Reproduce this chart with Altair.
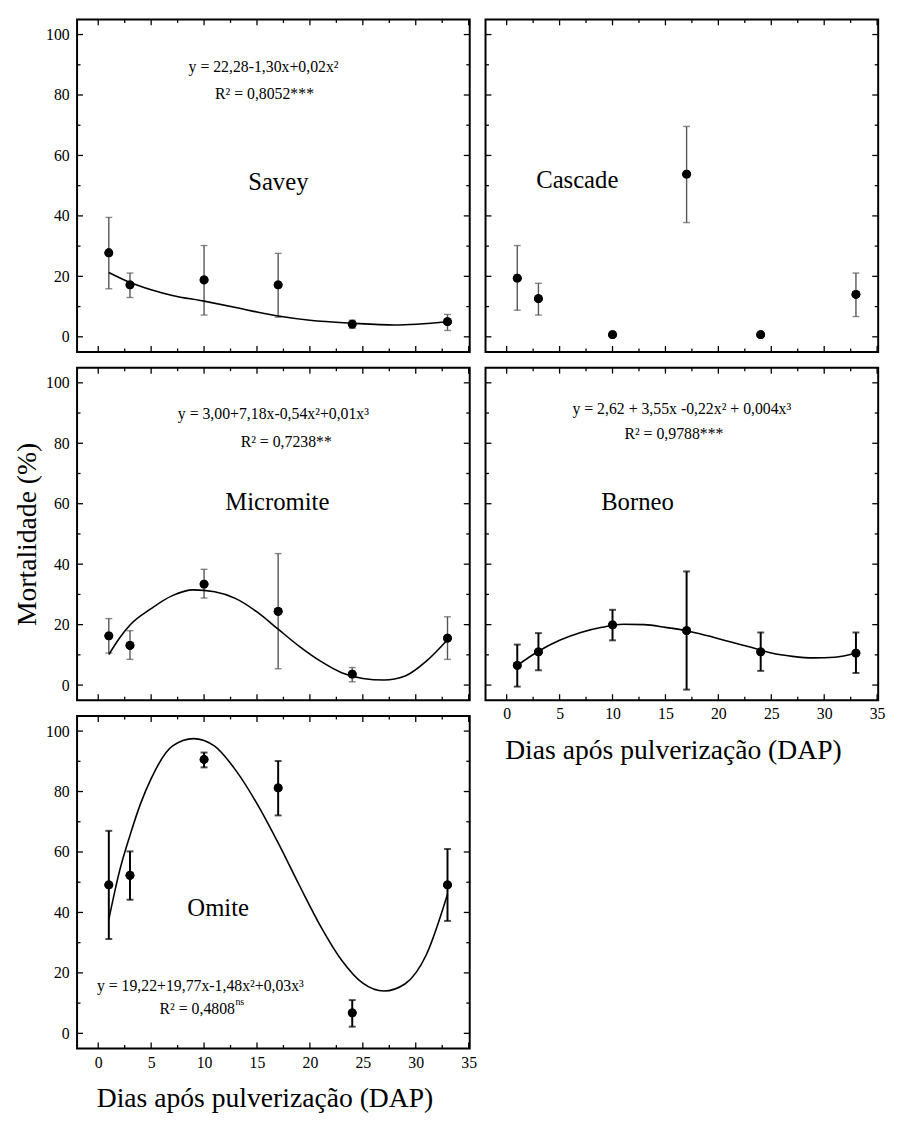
import altair as alt
import pandas as pd

FONT = "Liberation Serif"
W, H = 398, 337

days = [1, 3, 10, 17, 24, 33]
x_major = [0, 5, 10, 15, 20, 25, 30, 35]
x_minor = [2.5, 7.5, 12.5, 17.5, 22.5, 27.5, 32.5]
y_major = [0, 20, 40, 60, 80, 100]
y_minor = [10, 30, 50, 70, 90]

# Savey
savey_mean = [27.8, 17.2, 18.8, 17.2, 4.2, 5.0]
savey_lo = [15.9, 13.0, 7.2, 6.5, 2.8, 2.1]
savey_hi = [39.5, 21.1, 30.2, 27.6, 5.5, 7.4]
savey_fit_x = [1, 3, 5, 7, 10, 13, 15, 17, 20, 24, 28, 33]
savey_fit_y = [21.3, 18.0, 15.6, 13.7, 11.8, 9.7, 8.2, 6.9, 5.5, 4.5, 3.9, 5.0]

# Cascade
cascade_mean = [19.4, 12.6, 0.7, 53.8, 0.7, 14.0]
cascade_lo = [8.8, 7.2, None, 37.8, None, 6.7]
cascade_hi = [30.2, 17.7, None, 69.6, None, 21.1]

# Micromite
micro_mean = [16.3, 13.1, 33.4, 24.4, 3.6, 15.5]
micro_lo = [10.6, 8.5, 28.8, 5.4, 1.1, 8.5]
micro_hi = [22.0, 18.0, 38.3, 43.5, 5.8, 22.6]
micro_fit_x = [1, 2, 3, 5, 7, 9, 11, 13, 15, 17, 19, 21, 23, 25, 27, 29, 31, 33]
micro_fit_y = [10.1, 15.5, 19.9, 25.3, 29.6, 31.5, 30.9, 28.6, 24.2, 18.5, 12.8,
               7.9, 4.1, 2.2, 1.7, 3.0, 7.9, 15.0]

# Borneo
borneo_mean = [6.5, 11.0, 19.9, 18.0, 11.0, 10.6]
borneo_lo = [-0.5, 4.9, 14.8, -1.5, 4.7, 4.0]
borneo_hi = [13.4, 17.2, 24.9, 37.6, 17.4, 17.4]
borneo_fit_x = [1, 3, 5, 7, 9, 11, 13, 15, 17, 19, 21, 23, 25, 27, 29, 31, 33]
borneo_fit_y = [6.5, 11.2, 14.8, 17.4, 19.1, 20.1, 20.0, 19.1, 18.0, 16.3, 14.4,
                12.6, 10.6, 9.5, 9.0, 9.2, 10.6]

# Omite
omite_mean = [49.1, 52.3, 90.6, 81.2, 6.8, 49.1]
omite_lo = [31.2, 44.2, 88.0, 72.1, 2.2, 37.2]
omite_hi = [67.0, 60.2, 92.9, 90.1, 11.0, 61.0]
omite_fit_x = [1, 2, 3, 4, 5, 7, 9, 11, 13, 15, 17, 19, 21, 23, 25, 27, 29, 31, 33]
omite_fit_y = [37.7, 53.5, 65.5, 76.0, 84.3, 95.0, 97.5, 95.0, 87.0, 76.0, 63.0,
               49.0, 35.5, 24.2, 16.6, 14.0, 16.4, 26.0, 46.0]

x_title = "Dias após pulverização (DAP)"
y_title = "Mortalidade (%)"

xs = alt.Scale(domain=[-2, 35.1], nice=False, zero=False)
ys = alt.Scale(domain=[-5, 105], nice=False, zero=False)


def panel(mean, lo, hi, fit_x=None, fit_y=None, texts=(), show_x=False,
          show_y=False, ytitle=None, err_color="#555555", err_w=1.4):
    if show_x:
        xaxis = alt.Axis(values=x_major, format="d", ticks=False, domain=False,
                         grid=False, labelFont=FONT, labelFontSize=16,
                         labelColor="black", labelPadding=6, title=x_title,
                         titleFont=FONT, titleFontSize=28, titleFontWeight="normal",
                         titleColor="black", titlePadding=15, titleX=190)
    else:
        xaxis = None
    if show_y:
        yaxis = alt.Axis(values=y_major, format="d", ticks=False, domain=False,
                         grid=False, labelFont=FONT, labelFontSize=16,
                         labelColor="black", labelPadding=8, title=ytitle,
                         titleFont=FONT, titleFontSize=28, titleFontWeight="normal",
                         titleColor="black", titlePadding=4)
    else:
        yaxis = None

    def X(f):
        return alt.X(f, scale=xs, axis=xaxis)

    def Y(f):
        return alt.Y(f, scale=ys, axis=yaxis)

    pts = pd.DataFrame({"d": days, "m": mean})
    err = pd.DataFrame({"d": days, "lo": lo, "hi": hi}).dropna()

    layers = []
    layers.append(alt.Chart(pts).mark_point(filled=True, shape="circle", size=80,
                                            color="black", opacity=1).encode(
        x=X("d:Q"), y=Y("m:Q")))
    # inward frame ticks
    for vals, ln in [(x_major, 6), (x_minor, 3.5)]:
        df = pd.DataFrame({"d": vals})
        base = alt.Chart(df).mark_rule(color="black", strokeWidth=1.3)
        layers.append(base.encode(x=X("d:Q"), y=alt.value(H), y2=alt.value(H - ln)))
        layers.append(base.encode(x=X("d:Q"), y=alt.value(0), y2=alt.value(ln)))
    for vals, ln in [(y_major, 6), (y_minor, 3.5)]:
        df = pd.DataFrame({"m": vals})
        base = alt.Chart(df).mark_rule(color="black", strokeWidth=1.3)
        layers.append(base.encode(y=Y("m:Q"), x=alt.value(0), x2=alt.value(ln)))
        layers.append(base.encode(y=Y("m:Q"), x=alt.value(W), x2=alt.value(W - ln)))
    # error bars
    layers.append(alt.Chart(err).mark_rule(color=err_color, strokeWidth=err_w).encode(
        x=X("d:Q"), y=Y("lo:Q"), y2="hi:Q"))
    for c in ["lo", "hi"]:
        layers.append(alt.Chart(err).mark_tick(color=err_color, thickness=err_w,
                                               size=7, orient="horizontal").encode(
            x=X("d:Q"), y=Y(f"{c}:Q")))
    if fit_x is not None:
        fit = pd.DataFrame({"d": fit_x, "f": fit_y})
        layers.append(alt.Chart(fit).mark_line(color="black", strokeWidth=1.6,
                                               interpolate="monotone").encode(
            x=X("d:Q"), y=Y("f:Q")))
    layers.append(alt.Chart(pts).mark_point(filled=True, shape="circle", size=80,
                                            color="black", opacity=1).encode(
        x=X("d:Q"), y=Y("m:Q")))
    for t in texts:
        txt, px, py = t[0], t[1], t[2]
        size = t[3] if len(t) > 3 else 16
        align = t[4] if len(t) > 4 else "center"
        layers.append(alt.Chart(pd.DataFrame({"s": [txt]})).mark_text(
            font=FONT, fontSize=size, color="black", align=align, baseline="middle"
        ).encode(text="s:N", x=alt.value(px), y=alt.value(py)))
    return alt.layer(*layers).properties(width=W, height=H)


savey = panel(savey_mean, savey_lo, savey_hi, savey_fit_x, savey_fit_y,
              texts=[("y = 22,28-1,30x+0,02x²", 189, 48),
                     ("R² = 0,8052***", 190, 76),
                     ("Savey", 204, 165, 25)],
              show_y=True)
cascade = panel(cascade_mean, cascade_lo, cascade_hi,
                texts=[("Cascade", 93, 163, 25)])
micromite = panel(micro_mean, micro_lo, micro_hi, micro_fit_x, micro_fit_y,
                  texts=[("y = 3,00+7,18x-0,54x²+0,01x³", 199, 47),
                         ("R² = 0,7238**", 212, 75),
                         ("Micromite", 203, 136, 25)],
                  show_y=True, ytitle=y_title)
borneo = panel(borneo_mean, borneo_lo, borneo_hi, borneo_fit_x, borneo_fit_y,
               texts=[("y = 2,62 + 3,55x -0,22x² + 0,004x³", 199, 42),
                      ("R² = 0,9788***", 191, 67),
                      ("Borneo", 154, 136, 25)],
               show_x=True, err_color="black", err_w=2)
omite = panel(omite_mean, omite_lo, omite_hi, omite_fit_x, omite_fit_y,
              texts=[("y = 19,22+19,77x-1,48x²+0,03x³", 125, 274),
                     ("R² = 0,4808", 160, 297, 16, "right"),
                     ("ns", 160.5, 290, 10, "left"),
                     ("Omite", 143, 195, 25)],
              show_x=True, show_y=True, err_color="black", err_w=2)

chart = alt.concat(savey, cascade, micromite, borneo, omite, columns=2,
                   spacing=16, bounds="flush").properties(
    padding={"left": 5, "top": 2, "right": 5, "bottom": 5}
).configure_view(stroke="black", strokeWidth=2).configure_axis(
    labelFont=FONT, titleFont=FONT, labelFontSize=16, labelColor="black"
).configure_text(font=FONT)

chart.save("out.html", embed_options={"renderer": "svg", "actions": False})
